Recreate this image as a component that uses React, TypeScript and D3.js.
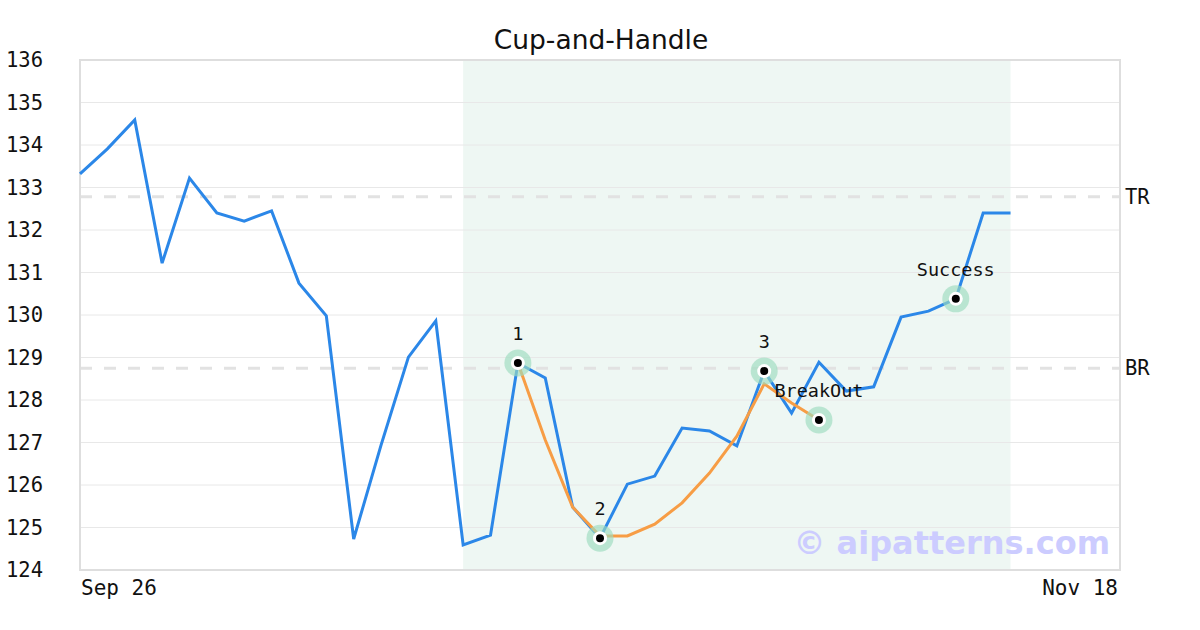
import React from "react";
import * as d3 from "d3";

const blueValues = [
  133.32, 133.91, 134.59, 131.22, 133.22, 132.4, 132.21, 132.45, 130.75, 129.98,
  124.73, 126.94, 129.01, 129.86, 124.59, 124.82, 128.87, 128.52, 125.48, 124.75,
  126.02, 126.21, 127.34, 127.27, 126.92, 128.68, 127.69, 128.89, 128.21, 128.31,
  129.95, 130.09, 130.38, 132.4, 132.4,
];
const orangeStart = 16;
const orangeValues = [
  128.87, 127.06, 125.48, 124.8, 124.8, 125.08, 125.58, 126.28, 127.15, 128.38, 127.93, 127.53,
];
const markerLabels = ["1", "2", "3", "BreakOut", "Success"];
const markerIndex = [16, 19, 25, 27, 32];
const markerValues = [128.87, 124.75, 128.68, 127.53, 130.38];
const levelLabels = ["TR", "BR"];
const levelValues = [132.78, 128.75];
const yTicks = [124, 125, 126, 127, 128, 129, 130, 131, 132, 133, 134, 135, 136];
const xTickLabels = ["Sep 26", "Nov 18"];
const xTickIndex = [0, 38];
const shadeRange = [14, 34];
const totalSlots = 38;

const W = 1200;
const H = 630;
const L = 80, R = 1120, T = 60, B = 570;
const mono = "'DejaVu Sans Mono', monospace";
const sans = "'DejaVu Sans', sans-serif";

export default function App() {
  const x = d3.scaleLinear().domain([0, totalSlots]).range([L, R]);
  const y = d3.scaleLinear().domain([124, 136]).range([B, T]);
  const line = d3.line<number>().x((_, i) => x(i)).y((d) => y(d));
  const orangeLine = d3.line<number>().x((_, i) => x(i + orangeStart)).y((d) => y(d));

  return (
    <svg width={W} height={H} style={{ position: "absolute", left: 0, top: 0, background: "#fff" }}>
      <rect x={0} y={0} width={W} height={H} fill="#fff" />
      <text x={601} y={49} textAnchor="middle" fontFamily={sans} fontSize={26.5} fill="#111">
        Cup-and-Handle
      </text>
      <rect
        x={x(shadeRange[0])}
        y={T}
        width={x(shadeRange[1]) - x(shadeRange[0])}
        height={B - T}
        fill="#eef7f3"
      />
      {yTicks.map((t) => (
        <g key={t}>
          {t !== 124 && t !== 136 && (
            <line x1={L} x2={R} y1={y(t)} y2={y(t)} stroke="#e8e8e8" strokeWidth={1} />
          )}
          <text x={6} y={y(t)} dy="0.35em" fontFamily={mono} fontSize={20.5} fill="#111">
            {t}
          </text>
        </g>
      ))}
      {levelValues.map((v, i) => (
        <g key={levelLabels[i]}>
          <line x1={L} x2={R} y1={y(v)} y2={y(v)} stroke="#e2e2e2" strokeWidth={3} strokeDasharray="12,12" />
          <text x={R + 5} y={y(v)} dy="0.35em" fontFamily={mono} fontSize={20.5} fill="#111">
            {levelLabels[i]}
          </text>
        </g>
      ))}
      <rect x={L} y={T} width={R - L} height={B - T} fill="none" stroke="#dedede" strokeWidth={2} />
      <text x={1110} y={554} textAnchor="end" fontFamily={sans} fontWeight="bold" fontSize={32} fill="#ccccff">
        © aipatterns.com
      </text>
      <path d={line(blueValues) || ""} fill="none" stroke="#2b87e8" strokeWidth={3} strokeLinejoin="miter" />
      <path d={orangeLine(orangeValues) || ""} fill="none" stroke="#f79d45" strokeWidth={3} />
      {markerIndex.map((idx, i) => (
        <g key={markerLabels[i]}>
          <circle cx={x(idx)} cy={y(markerValues[i])} r={13.5} fill="#9ddcbe" fillOpacity={0.65} />
          <circle cx={x(idx)} cy={y(markerValues[i])} r={7} fill="#fff" />
          <circle cx={x(idx)} cy={y(markerValues[i])} r={4} fill="#000" />
          <text
            x={x(idx)}
            y={y(markerValues[i]) - 23}
            textAnchor="middle"
            fontFamily={mono}
            fontSize={18.5}
            fill="#111"
          >
            {markerLabels[i]}
          </text>
        </g>
      ))}
      {xTickIndex.map((idx, i) => (
        <text
          key={xTickLabels[i]}
          x={i === 0 ? x(idx) + 1 : x(idx) - 2}
          y={595}
          textAnchor={i === 0 ? "start" : "end"}
          fontFamily={mono}
          fontSize={21}
          fill="#111"
        >
          {xTickLabels[i]}
        </text>
      ))}
    </svg>
  );
}
